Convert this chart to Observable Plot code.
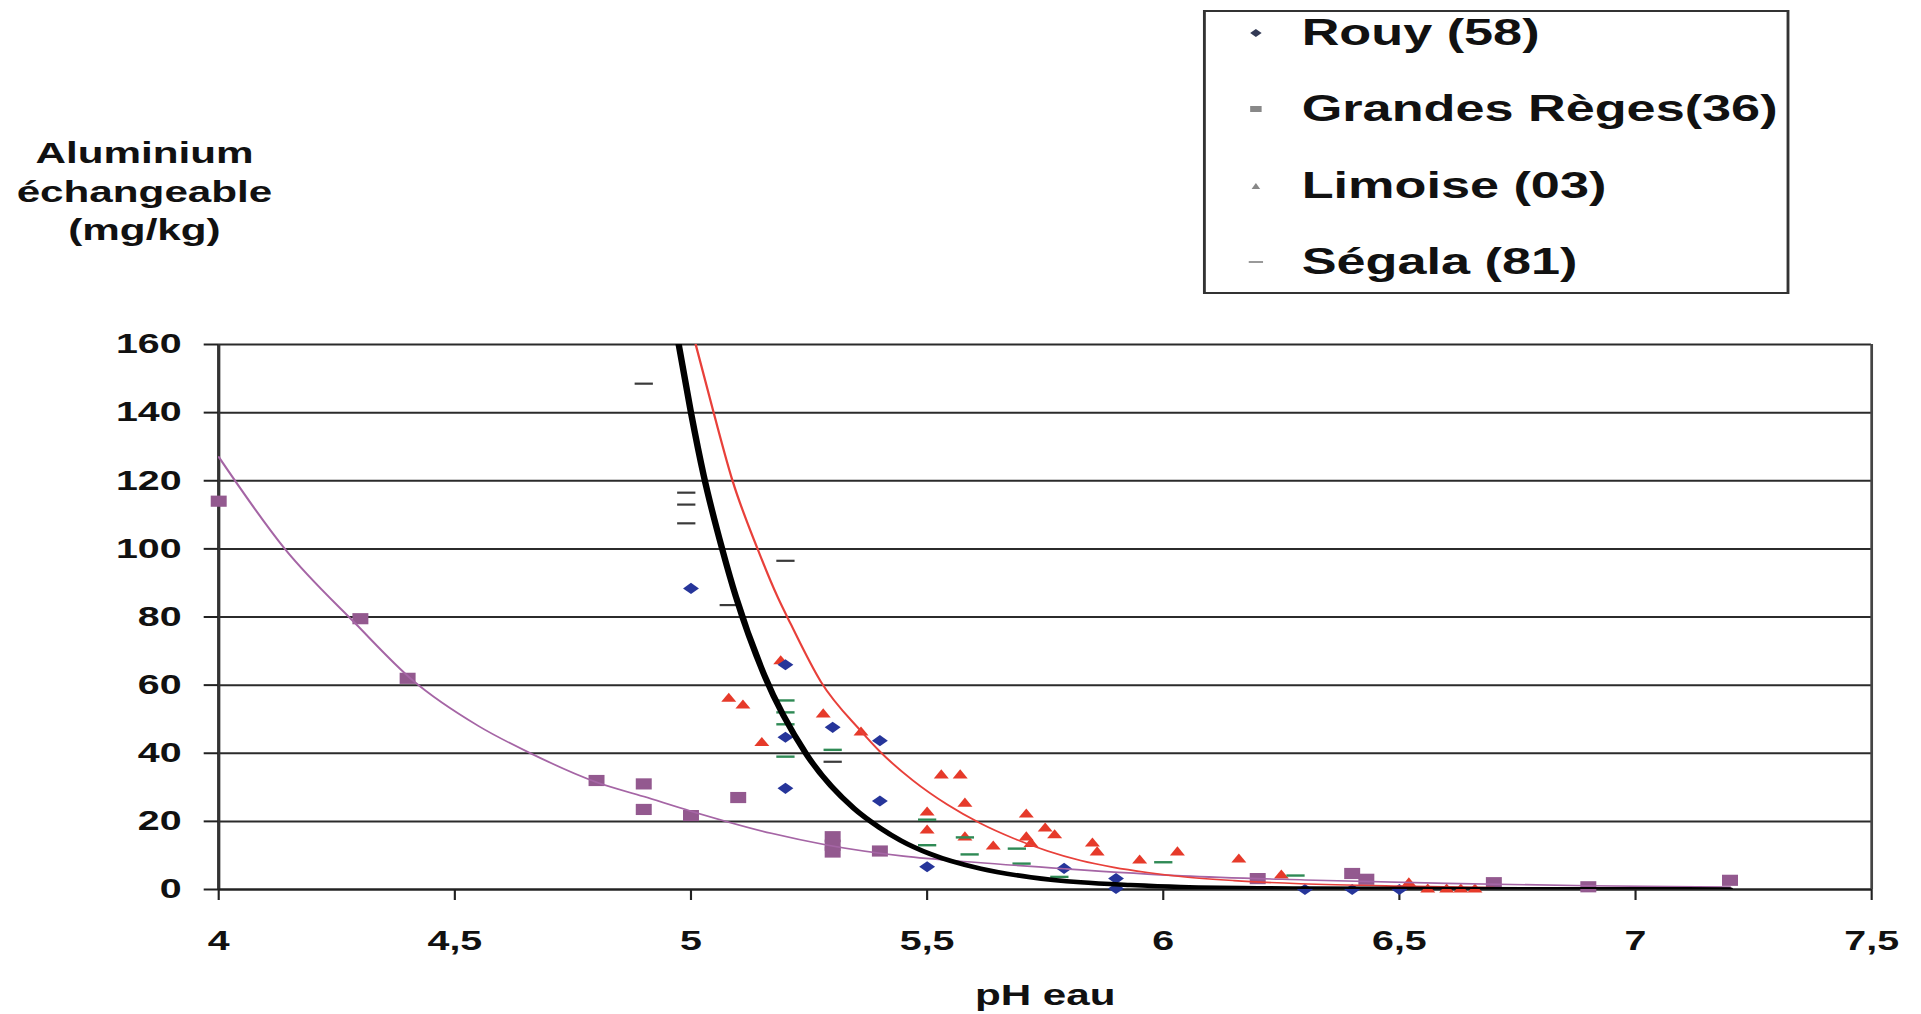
<!DOCTYPE html>
<html>
<head>
<meta charset="utf-8">
<script src="https://cdn.jsdelivr.net/npm/d3@7"></script>
<script src="https://cdn.jsdelivr.net/npm/@observablehq/plot@0.6"></script>
<style>
  html, body { margin: 0; padding: 0; background: #fff; overflow: hidden; width: 1921px; height: 1014px; }
  #wrap { position: absolute; left: 0; top: 0; width: 1343px; height: 1014px;
          transform: scaleX(1.4304); transform-origin: 0 0;
          font-family: "Liberation Sans", Arial, sans-serif; font-weight: bold; color: #111; }
  #header { position: relative; width: 1343px; height: 300px; }
  #ytitle { position: absolute; left: 1px; top: 134px; width: 200px; text-align: center;
            font-size: 29.5px; line-height: 38.5px; }
  #legend { position: absolute; left: 841px; top: 10px; width: 406px; height: 280px;
            border: 2px solid #333; background: #fff; }
  .lrow { position: absolute; left: 0; width: 406px; height: 44px; }
  .lrow svg { position: absolute; left: 27px; top: 14px; }
  .lrow span { position: absolute; left: 67px; top: 0; line-height: 44px; font-size: 36.5px; white-space: nowrap; }
  #chart { position: relative; width: 1343px; height: 714px; }
</style>
</head>
<body>
<div id="wrap">
  <div id="header">
    <div id="ytitle">Aluminium<br>échangeable<br>(mg/kg)</div>
    <div id="legend"></div>
  </div>
  <div id="chart"></div>
</div>
<script>
// ---------- data ----------
const seriesNames = ["Rouy (58)", "Grandes Règes(36)", "Limoise (03)", "Ségala (81)"];

const xTicks = [4, 4.5, 5, 5.5, 6, 6.5, 7, 7.5];
const yTicks = [0, 20, 40, 60, 80, 100, 120, 140, 160];

const rouyPH = [5.0, 5.2, 5.2, 5.2, 5.3, 5.4, 5.4, 5.5, 5.79, 5.9, 5.9, 6.3, 6.4, 6.5];
const rouyAl = [88.4, 66, 44.7, 29.7, 47.6, 43.7, 26, 6.7, 6.2, 3.2, 0.3, 0, 0, 0];

const grandesPH = [4.0, 4.3, 4.4, 4.8, 4.9, 4.9, 5.0, 5.1, 5.3, 5.3, 5.3, 5.4, 6.2, 6.4, 6.43, 6.7, 6.9, 7.2];
const grandesAl = [114, 79.5, 62, 32, 31, 23.5, 21.7, 27, 15.5, 13, 11, 11.3, 3.2, 4.7, 3, 2, 0.8, 2.7];

const limoisePH = [5.08, 5.11, 5.15, 5.19, 5.28, 5.36, 5.5, 5.5, 5.53, 5.57, 5.58, 5.58, 5.64, 5.71, 5.71, 5.72, 5.75, 5.77, 5.85, 5.86, 5.95, 6.03, 6.16, 6.25, 6.52, 6.56, 6.6, 6.63, 6.66];
const limoiseAl = [56, 54, 43, 67, 51.4, 46.1, 22.6, 17.3, 33.5, 33.5, 25.2, 15.3, 12.6, 22, 15.3, 13.4, 17.9, 15.9, 13.5, 10.9, 8.5, 10.9, 8.8, 4.1, 1.8, 0, 0, 0, 0];

const segalaDarkPH = [4.9, 4.99, 4.99, 4.99, 5.08, 5.2, 5.3];
const segalaDarkAl = [148.5, 116.5, 113, 107.5, 83.5, 96.5, 37.5];
const segalaGreenPH = [5.2, 5.2, 5.2, 5.2, 5.3, 5.5, 5.5, 5.58, 5.59, 5.69, 5.7, 5.78, 6.0, 6.28];
const segalaGreenAl = [55.5, 52, 48.5, 39, 41, 20.5, 13, 15.3, 10.3, 12, 7.6, 3.7, 8, 4.1];

// trend curves, points
const blackCurvePH = [4.974, 5.0, 5.027, 5.067, 5.095, 5.155, 5.243, 5.345, 5.40, 5.444, 5.507, 5.613, 5.719, 5.825, 5.93, 6.037, 6.3, 6.6, 7.0, 7.2];
const blackCurveAl = [160, 140, 121.5, 99.5, 86, 63, 40, 23.8, 18.1, 14.4, 10.4, 6.1, 3.6, 2.1, 1.3, 0.75, 0.3, 0.15, 0.05, 0.03];

const redCurvePH = [5.01, 5.048, 5.088, 5.141, 5.183, 5.211, 5.275, 5.36, 5.40, 5.47, 5.543, 5.613, 5.683, 5.755, 5.825, 5.895, 5.966, 6.037, 6.15, 6.29, 6.5, 6.7];
const redCurveAl = [160, 140, 120, 100, 86, 78, 61, 46.5, 40.5, 32, 24.9, 19.4, 15, 11.3, 8.5, 6.5, 5, 3.8, 2.6, 1.7, 1, 0.6];

const purpleCurvePH = [4.0, 4.14, 4.29, 4.41, 4.55, 4.66, 4.8, 4.9, 5.0, 5.17, 5.29, 5.45, 5.6, 5.79, 6.04, 6.3, 6.6, 6.9, 7.2];
const purpleCurveAl = [127, 100, 78, 61.5, 48, 40, 31.5, 27.3, 23, 16.5, 13, 9.8, 8, 6.1, 4, 2.8, 1.8, 1.1, 0.7];

// ---------- build tables ----------
const pts = (xs, ys) => xs.map((x, i) => ({ph: x, al: ys[i]}));
const rouy = pts(rouyPH, rouyAl);
const grandes = pts(grandesPH, grandesAl);
const limoise = pts(limoisePH, limoiseAl);
const segalaDark = pts(segalaDarkPH, segalaDarkAl);
const segalaGreen = pts(segalaGreenPH, segalaGreenAl);
const blackCurve = pts(blackCurvePH, blackCurveAl);
const redCurve = pts(redCurvePH, redCurveAl);
const purpleCurve = pts(purpleCurvePH, purpleCurveAl);

const dash = { draw(ctx, size) { const w = Math.sqrt(size) * 0.9; ctx.moveTo(-w, 0); ctx.lineTo(w, 0); } };

const fmt = d => String(d).replace(".", ",");

const chart = Plot.plot({
  width: 1343,
  height: 714,
  marginTop: 44,
  marginBottom: 125,
  marginLeft: 152.4,
  marginRight: 35,
  style: { fontFamily: "Liberation Sans, Arial, sans-serif", fontWeight: "bold", fontSize: "27.5px", color: "#111", background: "#fff", overflow: "visible" },
  x: { domain: [4, 7.5] },
  y: { domain: [0, 160] },
  marks: [
    Plot.gridY(yTicks, { stroke: "#2b2b2b", strokeOpacity: 1, strokeWidth: 2 }),
    Plot.ruleX([4], { stroke: "#333", strokeWidth: 2.3 }),
    Plot.ruleX([7.5], { stroke: "#444", strokeWidth: 1.9 }),
    Plot.ruleY([0], { stroke: "#222", strokeWidth: 2 }),
    Plot.axisY(yTicks, { tickSize: 10, tickPadding: 16, fontSize: 27.5, stroke: "#222", strokeWidth: 2, label: null, fill: "#111" }),
    Plot.axisX(xTicks, { tickSize: 11, tickPadding: 30, fontSize: 27.5, stroke: "#222", strokeWidth: 1.5, label: null, tickFormat: fmt, fill: "#111" }),
    Plot.dot(grandes, { x: "ph", y: "al", symbol: "square", r: 6.3, fill: "#93598f", stroke: "none" }),
    Plot.dot(limoise, { x: "ph", y: "al", symbol: "triangle", r: 3.9, fill: "#e63a2a", stroke: "none" }),
    Plot.dot(rouy, { x: "ph", y: "al", symbol: "diamond2", r: 5, fill: "#26359a", stroke: "none" }),
    Plot.dot(segalaGreen, { x: "ph", y: "al", symbol: dash, r: 4, fill: "none", stroke: "#2f8a55", strokeWidth: 2.4 }),
    Plot.dot(segalaDark, { x: "ph", y: "al", symbol: dash, r: 4, fill: "none", stroke: "#3a3a3a", strokeWidth: 2.2 }),
    Plot.line(purpleCurve, { x: "ph", y: "al", curve: "monotone-x", stroke: "#a565a5", strokeWidth: 1.6, clip: true }),
    Plot.line(redCurve, { x: "ph", y: "al", curve: "monotone-x", stroke: "#e8403a", strokeWidth: 1.6, clip: true }),
    Plot.line(blackCurve, { x: "ph", y: "al", curve: "monotone-x", stroke: "#000", strokeWidth: 4.5, clip: true }),
    Plot.text(["pH eau"], { text: d => d, frameAnchor: "bottom", dy: 106, fontSize: 29.5, lineAnchor: "middle", fill: "#111" })
  ]
});
document.getElementById("chart").appendChild(chart);

// ---------- legend ----------
const legendMarks = [
  '<polygon points="8,4 12,8 8,12 4,8" fill="#333a55"/>',
  '<rect x="4" y="5" width="8" height="6" fill="#888"/>',
  '<polygon points="8,5 11,11 5,11" fill="#888"/>',
  '<line x1="3" y1="8" x2="13" y2="8" stroke="#777" stroke-width="1.6"/>'
];
const legend = document.getElementById("legend");
const rowCenters = [21, 97.3, 173.6, 250];
seriesNames.forEach((name, i) => {
  const row = document.createElement("div");
  row.className = "lrow";
  row.style.top = (rowCenters[i] - 22) + "px";
  row.innerHTML = '<svg width="16" height="16" viewBox="0 0 16 16">' + legendMarks[i] + '</svg><span></span>';
  row.querySelector("span").textContent = name;
  legend.appendChild(row);
});
</script>
</body>
</html>
